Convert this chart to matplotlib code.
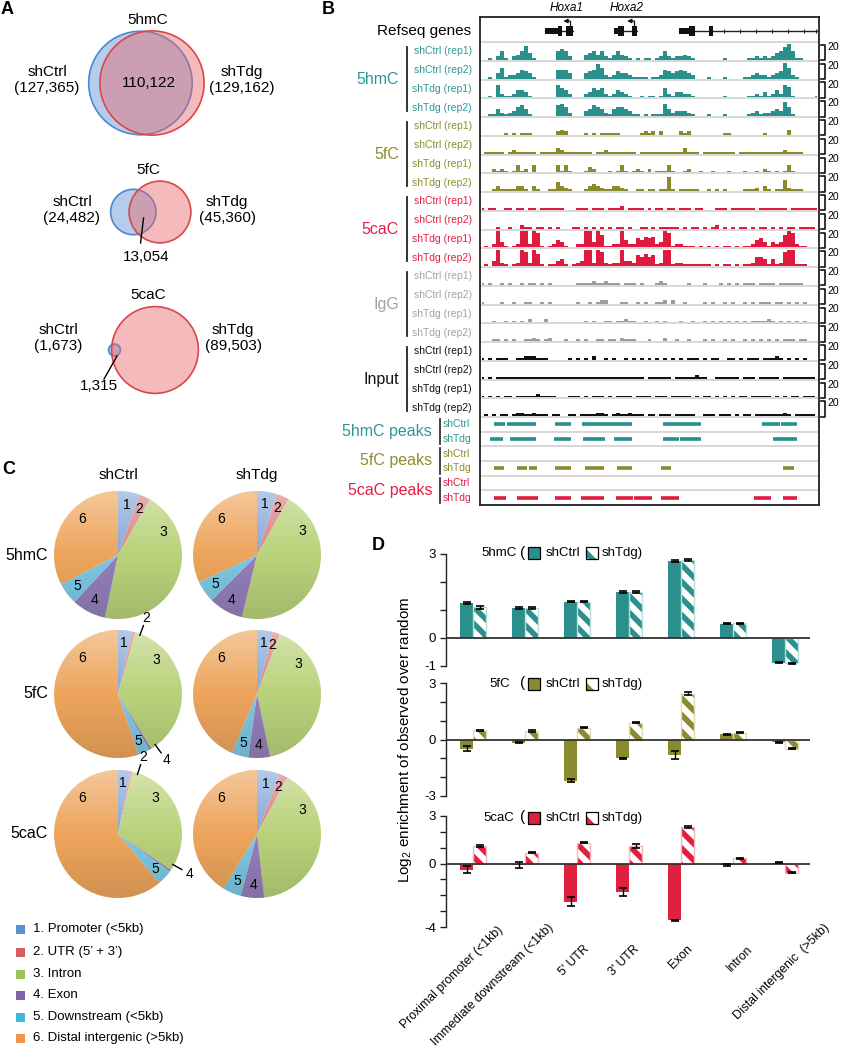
import numpy as np
import matplotlib
matplotlib.use('Agg')
import matplotlib.pyplot as plt
from matplotlib.patches import Circle, Rectangle
from matplotlib.lines import Line2D

plt.rcParams['font.family'] = ['Liberation Sans', 'DejaVu Sans']
plt.rcParams['mathtext.fontset'] = 'custom'
plt.rcParams['mathtext.rm'] = 'Liberation Sans'
plt.rcParams['mathtext.it'] = 'Liberation Sans:italic'
plt.rcParams['hatch.linewidth'] = 4.0

# ================= DATA =================
# Panel A - Venn counts
venn_marks = ['5hmC', '5fC', '5caC']
venn_shctrl = [127365, 24482, 1673]
venn_shtdg = [129162, 45360, 89503]
venn_overlap = [110122, 13054, 1315]

# Panel B - genome browser
track_marks = ['5hmC', '5fC', '5caC', 'IgG', 'Input']
track_samples = ['shCtrl (rep1)', 'shCtrl (rep2)', 'shTdg (rep1)', 'shTdg (rep2)']
track_max = '20'
gene_labels = ['Hoxa1', 'Hoxa2']
gene_label_pos = [21.6, 36.8]
gene_block_start = [16.2, 19.6, 21.5, 33.7, 34.5, 38.2, 49.9, 52.5, 57.3]
gene_block_end = [19.6, 20.6, 23.4, 34.5, 36.0, 39.4, 52.5, 53.9, 58.5]
gene_block_tall = [0, 1, 1, 0, 1, 1, 0, 1, 1]
gene_span_start = [16.2, 33.7, 49.9]
gene_span_end = [23.4, 39.4, 85.0]
gene_intron_ticks = [61.1, 65.1, 69.1, 73.2, 77.2, 81.2, 84.3]
tss_pos = [22.5, 38.6]
tss_to = [20.9, 36.9]

cov_5hmC = [
    "00102 51023 58410 00005 65200 03453 52135 32101 01101 25212 23210 00000 01000 00112 12124 57951 10000",
    "00103 61223 54310 00005 55300 03458 62124 33211 11011 25434 54320 00100 01000 01123 22123 49621 00000",
    "00107 21124 43100 00007 54200 02354 52124 32100 10110 15213 32210 00000 01000 00112 13124 27610 00001",
    "00114 21235 64100 00006 75200 03465 42145 54311 01011 17423 33210 00100 01000 00123 12234 38510 00000",
]
cov_5fC = [
    "00000 01010 11100 00002 32000 01010 11111 00000 12120 20000 21200 00000 01100 00000 01000 00300 00000",
    "01111 10121 11110 11113 21111 11101 12111 11110 11111 11111 13111 01111 11110 11111 11111 12111 10000",
    "00021 21014 12040 00004 14100 01320 00101 41012 10201 11410 01200 10010 00100 01001 02101 01410 00000",
    "00013 11113 31031 00115 32100 01343 21133 21001 10110 11810 11111 00101 01000 01112 03101 16211 10000",
]
cov_5caC = [
    "10110 01101 10110 11111 10001 11011 10111 20111 10101 10110 11101 10001 11011 11110 11111 11011 11111",
    "00001 00100 21101 10101 00011 01010 10101 10100 11010 11111 01011 01012 01010 11010 11010 10110 11110",
    "01029 31012 99298 10124 31002 29939 71122 94225 46562 39812 21110 10101 01101 01124 53132 37982 11000",
    "01039 21012 98297 10113 41012 39929 82122 93326 57561 29912 21111 11101 01101 01125 54141 28991 11000",
]
cov_IgG = [
    "10100 10100 10110 10100 00001 11121 12111 01110 10001 21000 00100 01000 10101 01110 11110 11111 10000",
    "10000 10010 01100 10100 00001 00101 22000 11001 01001 12020 01000 01010 01010 01010 11101 10101 01000",
    "00010 01010 10200 02000 00000 01010 01101 12110 01001 01000 10010 01010 10101 01011 11210 10101 01000",
    "00011 01010 01121 01200 01001 01001 10110 21110 00100 02001 00100 01010 01010 01010 10101 01110 11000",
]
cov_Input = [
    "10101 11001 12221 11000 00101 01020 01010 01010 10101 01010 10111 01011 00110 10111 01112 10101 01000",
    "10101 11111 11111 11111 11111 11111 11111 11111 10111 11101 11112 11001 11111 01110 11111 01111 11110",
    "10101 01101 11112 11110 00111 01011 10101 11101 11101 11011 11101 01101 01010 11011 11101 01011 01110",
    "01010 11012 21121 11011 00110 11112 21012 11211 10110 11101 11110 01110 11101 01101 11111 12101 11110",
]

peak_marks = ['5hmC peaks', '5fC peaks', '5caC peaks']
peak_conditions = ['shCtrl', 'shTdg']
peaks_5hmC_shCtrl = [(3.6, 6.3), (6.7, 14.1), (18.9, 22.9), (25.6, 38.2), (45.8, 55.5), (70.7, 75.2), (75.4, 79.4)]
peaks_5hmC_shTdg = [(2.4, 5.8), (7.5, 14.0), (18.6, 22.9), (25.8, 31.4), (33.7, 38.2), (45.8, 49.8), (50.1, 55.3), (73.4, 79.4)]
peaks_5fC_shCtrl = []
peaks_5fC_shTdg = [(3.6, 6.1), (9.4, 11.8), (12.3, 14.2), (18.9, 22.9), (26.3, 28.5), (28.7, 31.0), (34.4, 38.2), (45.5, 47.8), (76.0, 78.7)]
peaks_5caC_shCtrl = []
peaks_5caC_shTdg = [(3.6, 6.6), (9.2, 14.6), (18.9, 22.9), (25.3, 31.1), (34.2, 38.3), (38.7, 43.1), (45.4, 49.9), (68.8, 72.9), (75.9, 79.4)]

# Panel C - genomic distribution (%)
pie_marks = ['5hmC', '5fC', '5caC']
pie_conditions = ['shCtrl', 'shTdg']
region_labels = ['1. Promoter (<5kb)', '2. UTR (5\u2019 + 3\u2019)', '3. Intron', '4. Exon',
                 '5. Downstream (<5kb)', '6. Distal intergenic (>5kb)']
pie_5hmC_shCtrl = [5.5, 2.8, 45.0, 8.6, 5.5, 32.6]
pie_5hmC_shTdg = [5.0, 3.2, 45.6, 8.7, 5.5, 32.0]
pie_5fC_shCtrl = [3.6, 0.8, 36.9, 0.6, 2.9, 55.2]
pie_5fC_shTdg = [4.0, 1.8, 40.9, 5.5, 4.2, 43.6]
pie_5caC_shCtrl = [3.1, 0.5, 30.9, 0.5, 3.8, 61.2]
pie_5caC_shTdg = [5.7, 2.2, 40.3, 5.9, 4.7, 41.2]

# Panel D - log2 enrichment
feature_labels = ['Proximal promoter (<1kb)', 'Immediate downstream (<1kb)', "5' UTR", "3' UTR",
                  'Exon', 'Intron', 'Distal intergenic  (>5kb)']
enr_5hmC_shCtrl = [1.25, 1.07, 1.30, 1.64, 2.76, 0.51, -0.88]
enr_5hmC_shTdg = [1.10, 1.07, 1.30, 1.64, 2.79, 0.52, -0.91]
err_5hmC_shCtrl = [0.04, 0.02, 0.02, 0.04, 0.03, 0.02, 0.03]
err_5hmC_shTdg = [0.06, 0.02, 0.02, 0.04, 0.03, 0.03, 0.03]
enr_5fC_shCtrl = [-0.48, -0.16, -2.18, -0.99, -0.81, 0.27, -0.14]
enr_5fC_shTdg = [0.48, 0.45, 0.63, 0.90, 2.42, 0.36, -0.48]
err_5fC_shCtrl = [0.12, 0.03, 0.10, 0.02, 0.20, 0.03, 0.03]
err_5fC_shTdg = [0.04, 0.03, 0.03, 0.03, 0.08, 0.03, 0.03]
enr_5caC_shCtrl = [-0.38, -0.10, -2.40, -1.77, -3.59, -0.10, 0.05]
enr_5caC_shTdg = [1.11, 0.69, 1.32, 1.11, 2.30, 0.33, -0.58]
err_5caC_shCtrl = [0.20, 0.18, 0.30, 0.25, 0.02, 0.05, 0.03]
err_5caC_shTdg = [0.05, 0.03, 0.03, 0.10, 0.04, 0.04, 0.03]

# ================= FIGURE =================
W, H = 841, 1050
fig = plt.figure(figsize=(W / 100, H / 100), dpi=100)


def ft(x, y, s, **kw):
    kw.setdefault('ha', 'center')
    kw.setdefault('va', 'center')
    return fig.text(x / W, 1 - y / H, s, **kw)


def fline(xs, ys, **kw):
    fig.add_artist(Line2D([x / W for x in xs], [1 - y / H for y in ys], **kw))


def add_ax_px(x0, y0, x1, y1):
    return fig.add_axes([x0 / W, 1 - y1 / H, (x1 - x0) / W, (y1 - y0) / H])


# panel letters
for lab, (px, py) in zip('ABCD', [(1, 9), (322, 9), (2, 469), (372, 545)]):
    ft(px, py, lab, ha='left', fontsize=13, fontweight='bold')

# ---------------- Panel A ----------------
axA = add_ax_px(0, 0, 280, 420)
axA.set_xlim(0, 280)
axA.set_ylim(420, 0)
axA.axis('off')


def lens(r1, r2, d):
    if d >= r1 + r2:
        return 0.0
    if d <= abs(r1 - r2):
        return np.pi * min(r1, r2) ** 2
    a1 = r1 ** 2 * np.arccos((d * d + r1 * r1 - r2 * r2) / (2 * d * r1))
    a2 = r2 ** 2 * np.arccos((d * d + r2 * r2 - r1 * r1) / (2 * d * r2))
    a3 = 0.5 * np.sqrt((-d + r1 + r2) * (d + r1 - r2) * (d - r1 + r2) * (d + r1 + r2))
    return a1 + a2 - a3


kscale = 0.145
venn_anchor = [(152, 83), (160, 212), (155, 350)]
venn_title_y = [20, 170, 295]
venn_ctrl_lab = [(47, 80), (72, 210), (58, 338)]
venn_tdg_lab = [(242, 80), (227, 210), (233, 338)]
for i in range(3):
    r1 = kscale * np.sqrt(venn_shctrl[i])
    r2 = kscale * np.sqrt(venn_shtdg[i])
    target = np.pi * kscale ** 2 * venn_overlap[i]
    lo, hi = abs(r1 - r2) + 1e-6, r1 + r2
    for _ in range(80):
        mid = 0.5 * (lo + hi)
        if lens(r1, r2, mid) > target:
            lo = mid
        else:
            hi = mid
    d = 0.5 * (lo + hi)
    cx2, cy = venn_anchor[i]
    cx1 = cx2 - d
    axA.add_patch(Circle((cx1, cy), r1, facecolor=(0.36, 0.56, 0.84, 0.45),
                         edgecolor='#4a88d0', lw=1.2, zorder=2))
    axA.add_patch(Circle((cx2, cy), r2, facecolor=(0.91, 0.40, 0.42, 0.45),
                         edgecolor='#d8474d', lw=1.2, zorder=3))
    axA.text(cx2 - 4 if i == 0 else 148, venn_title_y[i], venn_marks[i], ha='center', va='center', fontsize=11)
    axA.text(*venn_ctrl_lab[i], 'shCtrl\n({:,})'.format(venn_shctrl[i]), ha='center', va='center',
             fontsize=11, linespacing=1.15)
    axA.text(*venn_tdg_lab[i], 'shTdg\n({:,})'.format(venn_shtdg[i]), ha='center', va='center',
             fontsize=11, linespacing=1.15)
    lx = 0.5 * ((cx2 - r2) + (cx1 + r1))
    if i == 0:
        axA.text(lx + 3, cy, '{:,}'.format(venn_overlap[i]), ha='center', va='center', fontsize=11, zorder=5)
    elif i == 1:
        axA.plot([lx + 1, lx - 2], [cy + 6, cy + 31], color='black', lw=1, zorder=5)
        axA.text(lx + 4, cy + 45, '{:,}'.format(venn_overlap[i]), ha='center', va='center', fontsize=11)
    else:
        axA.plot([lx + 1, lx - 12], [cy + 6, cy + 29], color='black', lw=1, zorder=5)
        axA.text(lx - 17, cy + 36, '{:,}'.format(venn_overlap[i]), ha='center', va='center', fontsize=11)

# ---------------- Panel B ----------------
bx0, bx1, by0, by1 = 480, 819, 17, 505
NB = 85
gene_h = 25.0
track_h = 18.75
peak_h = 88.0 / 6
axb = add_ax_px(bx0, by0, bx1, by1)
axb.set_xlim(0, NB)
axb.set_ylim(by1 - by0, 0)
axb.set_xticks([])
axb.set_yticks([])
for s in axb.spines.values():
    s.set_linewidth(1.3)
    s.set_color('#222222')

grp_fill = ['#2b8f8b', '#8a8a2c', '#df1a3e', '#9d9d9d', '#111111']
grp_text = ['#2e9894', '#8d8d2e', '#e41d45', '#a3a3a3', '#111111']
sep_col = '#d4d4d4'

# genes
gy = 14.0
for s0, e0 in zip(gene_span_start, gene_span_end):
    axb.plot([s0, e0], [gy, gy], color='#222222', lw=1.0, zorder=2)
axb.vlines(gene_intron_ticks, gy - 1.8, gy + 1.8, color='#222222', lw=0.8)
for s0, e0, tall in zip(gene_block_start, gene_block_end, gene_block_tall):
    hh = 10 if tall else 6
    axb.add_patch(Rectangle((s0, gy - hh / 2), e0 - s0, hh, color='#111111', lw=0, zorder=3))
for p, q in zip(tss_pos, tss_to):
    axb.plot([p, p], [gy - 5, gy - 10], color='#111111', lw=0.9, zorder=3)
    axb.annotate('', xy=(q, gy - 10), xytext=(p, gy - 10),
                 arrowprops=dict(arrowstyle='-|>', lw=0.9, color='#111111', mutation_scale=6,
                                 shrinkA=0, shrinkB=0))
for name, pos in zip(gene_labels, gene_label_pos):
    axb.text(pos, -9, name, ha='center', va='center', fontsize=8.5, style='italic', clip_on=False)
axb.axhline(gene_h, color=sep_col, lw=1.3, zorder=1)
ft(471, 31, 'Refseq genes', ha='right', fontsize=11)

# tracks
cov_all = [cov_5hmC, cov_5fC, cov_5caC, cov_IgG, cov_Input]
for g, covs in enumerate(cov_all):
    for si, cs in enumerate(covs):
        vals = np.array([int(ch) for ch in cs.replace(' ', '')], dtype=float)
        n = len(vals)
        x = (np.arange(n) + 0.5) * NB / n
        t = g * 4 + si
        top = gene_h + t * track_h
        bot = top + track_h
        axb.fill_between(x, bot - 0.9, bot - 0.9 - vals * 16.0 / 9.0, step='mid',
                         color=grp_fill[g], lw=0, zorder=2)
        axb.axhline(bot, color=sep_col, lw=1.3, zorder=1)
        ft(472, by0 + top + track_h / 2, track_samples[si], ha='right', fontsize=7.5, color=grp_text[g])
        yt, yb = by0 + top + 3, by0 + bot - 0.5
        fline([821, 824.5, 824.5, 821], [yt, yt, yb, yb], color='#111111', lw=1.2)
        ft(827, by0 + top + 5, track_max, ha='left', fontsize=7.5)
    gtop = by0 + gene_h + 4 * g * track_h
    gbot = gtop + 4 * track_h
    fline([407, 407], [gtop + 5, gbot - 6], color='#222222', lw=1.3)
    ft(399, 0.5 * (gtop + gbot), track_marks[g], ha='right', fontsize=11.5, color=grp_text[g])

# peak rows
peaks_all = [[peaks_5hmC_shCtrl, peaks_5hmC_shTdg], [peaks_5fC_shCtrl, peaks_5fC_shTdg],
             [peaks_5caC_shCtrl, peaks_5caC_shTdg]]
peak_cols = [grp_fill[0], grp_fill[1], grp_fill[2]]
ptop0 = gene_h + 20 * track_h
for j in range(3):
    for c in range(2):
        r = 2 * j + c
        top = ptop0 + r * peak_h
        cen = top + peak_h / 2
        for s0, e0 in peaks_all[j][c]:
            axb.plot([s0, e0], [cen, cen], color=peak_cols[j], lw=2.6, solid_capstyle='butt', zorder=2)
        if r < 5:
            axb.axhline(top + peak_h, color=sep_col, lw=1.3, zorder=1)
        ft(443, by0 + cen, peak_conditions[c], ha='left', fontsize=7.5, color=grp_text[j])
    gt = by0 + ptop0 + 2 * j * peak_h
    fline([440, 440], [gt + 2, gt + 2 * peak_h - 2], color='#222222', lw=1.2)
    ft(432, gt + peak_h, peak_marks[j], ha='right', fontsize=11.5, color=grp_text[j])

# ---------------- Panel C ----------------
pie_cols = ['#86a8d8', '#d98282', '#b9d27a', '#9580bb', '#7cc8e5', '#eda55c']
leg_cols = ['#5f8fcf', '#d65d62', '#9cc25c', '#7f64ab', '#44b6dc', '#f2964f']
pies = [[pie_5hmC_shCtrl, pie_5hmC_shTdg], [pie_5fC_shCtrl, pie_5fC_shTdg],
        [pie_5caC_shCtrl, pie_5caC_shTdg]]
pie_cx = [118, 257]
pie_cy = [555, 694, 834]
pr = 64
grad = np.zeros((80, 1, 4))
for i, tv in enumerate(np.linspace(0, 1, 80)):
    if tv < 0.5:
        grad[i, 0] = [1, 1, 1, 0.38 * (1 - tv / 0.5)]
    else:
        grad[i, 0] = [0, 0, 0, 0.12 * (tv - 0.5) / 0.5]

for c, name in enumerate(pie_conditions):
    ft(pie_cx[c], 475, name, fontsize=11)
for r, mark in enumerate(pie_marks):
    ft(48, pie_cy[r], mark, ha='right', fontsize=11.5)
    for c in range(2):
        vals = pies[r][c]
        cx, cy = pie_cx[c], pie_cy[r]
        ax = add_ax_px(cx - 1.5 * pr, cy - 1.5 * pr, cx + 1.5 * pr, cy + 1.5 * pr)
        ax.pie(vals, colors=pie_cols, startangle=90, counterclock=False, radius=1,
               wedgeprops=dict(linewidth=0))
        im = ax.imshow(grad, extent=(-1, 1, -1, 1), aspect='auto', zorder=3, interpolation='bilinear')
        im.set_clip_path(Circle((0, 0), 1, transform=ax.transData))
        ax.set_xlim(-1.5, 1.5)
        ax.set_ylim(-1.5, 1.5)
        ax.set_aspect('equal')
        ax.axis('off')
        ax.patch.set_visible(False)
        tot = float(sum(vals))
        cum = np.cumsum([0] + list(vals)) / tot * 360.0
        for k in range(6):
            a0, a1 = cum[k], cum[k + 1]
            frac = vals[k] / tot * 100
            if frac < 1.5:
                ang = np.radians(0.5 * (a0 + a1) + (6 if k == 1 else -6))
                ax.plot([0.98 * np.sin(ang), 1.14 * np.sin(ang)], [0.98 * np.cos(ang), 1.14 * np.cos(ang)],
                        color='black', lw=1, zorder=5, clip_on=False)
                ax.text(1.27 * np.sin(ang), 1.27 * np.cos(ang), str(k + 1), ha='center', va='center',
                        fontsize=10, zorder=6)
                continue
            if k == 2:
                ang = a0 + 33
            elif k == 5:
                ang = 315
            else:
                ang = 0.5 * (a0 + a1)
            rr = 0.8
            ang = np.radians(ang)
            ax.text(rr * np.sin(ang), rr * np.cos(ang), str(k + 1), ha='center', va='center',
                    fontsize=10, zorder=6)

leg_y = [929, 952, 974, 995, 1017, 1038]
for k in range(6):
    y = leg_y[k]
    fig.add_artist(Rectangle((16 / W, 1 - (y + 4.5) / H), 9 / W, 9 / H, transform=fig.transFigure,
                             facecolor=leg_cols[k], lw=0))
    ft(33, y, region_labels[k], ha='left', fontsize=9.5)

# ---------------- Panel D ----------------
d_cols = [grp_fill[0], '#8a8a30', '#e0203f']
d_pale = ['#b9dedb', '#dcdcae', '#f6b3bf']
d_ctrl = [enr_5hmC_shCtrl, enr_5fC_shCtrl, enr_5caC_shCtrl]
d_tdg = [enr_5hmC_shTdg, enr_5fC_shTdg, enr_5caC_shTdg]
d_ectrl = [err_5hmC_shCtrl, err_5fC_shCtrl, err_5caC_shCtrl]
d_etdg = [err_5hmC_shTdg, err_5fC_shTdg, err_5caC_shTdg]
d_names = ['5hmC', '5fC', '5caC']
d_px = [(554, 666), (683, 796), (816, 927)]
d_ylim = [(-1, 3), (-3, 3), (-4, 3)]
d_lab = [[3, 0, -1], [3, 0, -3], [3, 0, -4]]
d_name_x = [481, 489, 483]
d_leg_y = [553, 684, 818]
bw = 0.25
hatch_pat = '\\\\'
axes_d = []
for k in range(3):
    ax = add_ax_px(446, d_px[k][0], 810, d_px[k][1])
    axes_d.append(ax)
    x = np.arange(len(feature_labels))
    ax.bar(x - bw / 2, d_ctrl[k], bw, color=d_cols[k], lw=0, zorder=2)
    ax.bar(x + bw / 2, d_tdg[k], bw, color='white', edgecolor=d_cols[k], hatch=hatch_pat, lw=0, zorder=2)
    ax.bar(x + bw / 2, d_tdg[k], bw, fill=False, edgecolor=d_pale[k], lw=1.0, zorder=3)
    ax.errorbar(x - bw / 2, d_ctrl[k], yerr=d_ectrl[k], fmt='none', ecolor='black', elinewidth=1,
                capsize=3, capthick=1.2, zorder=5)
    ax.errorbar(x + bw / 2, d_tdg[k], yerr=d_etdg[k], fmt='none', ecolor='black', elinewidth=1,
                capsize=3, capthick=1.2, zorder=5)
    ax.axhline(0, color='#333333', lw=1.3, zorder=4)
    ax.set_xlim(-0.52, 6.48)
    ax.set_ylim(*d_ylim[k])
    for sp in ['top', 'right', 'bottom']:
        ax.spines[sp].set_visible(False)
    ax.spines['left'].set_linewidth(1.0)
    ax.spines['left'].set_color('#222222')
    ax.set_xticks([])
    ticks = list(range(d_ylim[k][0], d_ylim[k][1] + 1))
    ax.set_yticks(ticks)
    ax.set_yticklabels([str(t) if t in d_lab[k] else '' for t in ticks])
    ax.tick_params(axis='y', length=4, width=1, labelsize=9.5, pad=3, color='#222222')
    ax.patch.set_visible(False)
    # legend
    y = d_leg_y[k]
    ft(d_name_x[k], y, d_names[k], ha='left', fontsize=9.5)
    ft(520, y - 0.5, '(', ha='left', fontsize=11)
    fig.add_artist(Rectangle((528 / W, 1 - (y + 6) / H), 12 / W, 12 / H, transform=fig.transFigure,
                             facecolor=d_cols[k], edgecolor='black', lw=0.9))
    ft(546, y, 'shCtrl', ha='left', fontsize=9.5)
    fig.add_artist(Rectangle((586 / W, 1 - (y + 6) / H), 12 / W, 12 / H, transform=fig.transFigure,
                             facecolor='white', edgecolor=d_cols[k], hatch='\\', lw=0))
    fig.add_artist(Rectangle((586 / W, 1 - (y + 6) / H), 12 / W, 12 / H, transform=fig.transFigure,
                             fill=False, edgecolor='black', lw=0.9))
    ft(602, y, 'shTdg)', ha='left', fontsize=9.5)

axd = axes_d[2]
lab_dx = [24, 22, 6, 4, 5, 14, 38]
lab_dy = [3, 5, -16, -16, -16, -16, 5]
for i, lab in enumerate(feature_labels):
    axd.annotate(lab, xy=(i, 0), xycoords=('data', 'axes fraction'), xytext=(lab_dx[i], lab_dy[i]),
                 textcoords='offset pixels', rotation=45, rotation_mode='anchor', ha='right', va='top',
                 fontsize=8.8, annotation_clip=False)

ft(405, 740, 'Log$_2$ enrichment of observed over random', rotation=90, fontsize=11)

fig.savefig('out.png', dpi=100)
